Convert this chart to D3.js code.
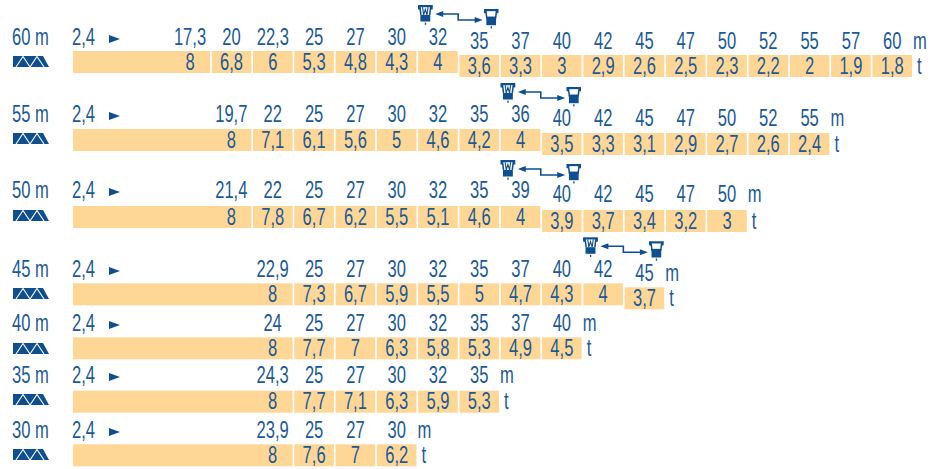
<!DOCTYPE html>
<html>
<head>
<meta charset="utf-8">
<script src="https://cdnjs.cloudflare.com/ajax/libs/d3/7.8.5/d3.min.js"></script>
<style>
  html, body { margin: 0; background: #fff; }
  text { font-family: "Liberation Sans", sans-serif; fill: #1b5a96; font-size: 23px; }
</style>
</head>
<body>
<svg id="chart" width="932" height="469"></svg>
<script>
const BLUE = '#0f4f8f';
const BAR = '#fed797';

const booms = ['60 m', '55 m', '50 m', '45 m', '40 m', '35 m', '30 m'];
const startRadius = '2,4';

const radius60 = ['17,3', '20', '22,3', '25', '27', '30', '32', '35', '37', '40', '42', '45', '47', '50', '52', '55', '57', '60'];
const radius55 = ['19,7', '22', '25', '27', '30', '32', '35', '36', '40', '42', '45', '47', '50', '52', '55'];
const radius50 = ['21,4', '22', '25', '27', '30', '32', '35', '39', '40', '42', '45', '47', '50'];
const radius45 = ['22,9', '25', '27', '30', '32', '35', '37', '40', '42', '45'];
const radius40 = ['24', '25', '27', '30', '32', '35', '37', '40'];
const radius35 = ['24,3', '25', '27', '30', '32', '35'];
const radius30 = ['23,9', '25', '27', '30'];

const load60 = ['8', '6,8', '6', '5,3', '4,8', '4,3', '4', '3,6', '3,3', '3', '2,9', '2,6', '2,5', '2,3', '2,2', '2', '1,9', '1,8'];
const load55 = ['8', '7,1', '6,1', '5,6', '5', '4,6', '4,2', '4', '3,5', '3,3', '3,1', '2,9', '2,7', '2,6', '2,4'];
const load50 = ['8', '7,8', '6,7', '6,2', '5,5', '5,1', '4,6', '4', '3,9', '3,7', '3,4', '3,2', '3'];
const load45 = ['8', '7,3', '6,7', '5,9', '5,5', '5', '4,7', '4,3', '4', '3,7'];
const load40 = ['8', '7,7', '7', '6,3', '5,8', '5,3', '4,9', '4,5'];
const load35 = ['8', '7,7', '7,1', '6,3', '5,9', '5,3'];
const load30 = ['8', '7,6', '7', '6,2'];

const radii = [radius60, radius55, radius50, radius45, radius40, radius35, radius30];
const loads = [load60, load55, load50, load45, load40, load35, load30];
// column the first (8 t) block stops at, and how many cells come before the single-fall drop
const firstEnd = [0, 1, 1, 2, 2, 2, 2];
const dropAt = [7, 8, 8, 9, null, null, null];

const colX = d3.scaleLinear().domain([0, 17]).range([210, 912]);
const rowY = d3.scaleOrdinal().domain(booms).range([51, 129, 206, 283.3, 337.3, 390.7, 444.3]);
const labelY = d3.scaleOrdinal().domain(booms).range([45, 122, 198, 277, 331, 383, 438]);
const trussY = d3.scaleOrdinal().domain(booms).range([56, 133, 210, 288, 343, 394, 449]);
const BAR_LEFT = 73, BAR_H = 22, DROP = 4;

const svg = d3.select('#chart');

// no narrow font here, so squeeze the text sideways
function label(sel, x, y, str, anchor) {
  return sel.append('text')
    .attr('text-anchor', anchor || 'start')
    .attr('transform', `translate(${x},${y}) scale(0.72,1)`)
    .text(str);
}

function truss(g) {
  g.append('path').attr('fill', BLUE)
    .attr('d', 'M0 0H30L36 11H0Z');
  g.append('path').attr('fill', 'none').attr('stroke', '#fff').attr('stroke-width', 1.1)
    .attr('d', 'M3 11L10 0.5L17 11L24 0.5L31 11');
}

function trolley(g, double) {
  g.append('path').attr('fill', 'none').attr('stroke', BLUE).attr('stroke-width', 1.4)
    .attr('d', 'M0.5 4V1H1.5M12.5 4V1H11.5M1.5 1L2.5 9M11.5 1L10.5 9');
  g.append('path').attr('fill', BLUE).attr('d', 'M0 0H13V2H0Z');
  g.append('rect').attr('x', 2).attr('y', double ? 9 : 7).attr('width', 9).attr('height', double ? 6 : 8).attr('fill', BLUE);
  if (double) {
    g.append('path').attr('fill', 'none').attr('stroke', BLUE).attr('stroke-width', 1)
      .attr('d', 'M4 2L5 9L6.5 4L8 9L9 2');
  }
  g.append('rect').attr('x', 6).attr('y', 16).attr('width', 1.2).attr('height', 2).attr('fill', BLUE);
}

function reeving(g) {
  trolley(g.append('g').attr('transform', 'scale(1.1)'), true);
  trolley(g.append('g').attr('transform', 'translate(66,4) scale(1.08)'), false);
  g.append('path').attr('fill', 'none').attr('stroke', BLUE).attr('stroke-width', 1.6)
    .attr('d', 'M22 9H40V15H58');
  g.append('path').attr('fill', BLUE).attr('d', 'M17 9L25 6V12Z');
  g.append('path').attr('fill', BLUE).attr('d', 'M64.5 15L56.5 12V18Z');
}

booms.forEach((boom, r) => {
  const y = rowY(boom);
  const ly = labelY(boom);
  const row = svg.append('g').attr('class', 'row');
  const cells = loads[r].map((l, i) => {
    const dropped = dropAt[r] !== null && i >= dropAt[r];
    const c = firstEnd[r] + i - 1;
    return {
      load: l,
      radius: radii[r][i],
      x0: i === 0 ? BAR_LEFT : colX(c) + 1.7,
      x1: colX(c + 1),
      dy: dropped ? DROP : 0
    };
  });

  label(row, 12, ly, boom);
  label(row, 72, ly, startRadius);
  row.append('path').attr('fill', BLUE)
    .attr('d', `M109 ${ly - 10}L120 ${ly - 6}L109 ${ly - 2}Z`);
  truss(row.append('g').attr('transform', `translate(13,${trussY(boom)})`));

  row.selectAll('rect.bar').data(cells).enter().append('rect')
    .attr('class', 'bar')
    .attr('x', d => d.x0)
    .attr('y', d => y + d.dy)
    .attr('width', d => d.x1 - d.x0)
    .attr('height', BAR_H)
    .attr('fill', BAR);

  cells.forEach((d, i) => {
    const cx = i === 0 ? d.x1 - 20 : (d.x0 + d.x1) / 2;
    label(row, cx, y + d.dy + 18.5, d.load, 'middle');
    label(row, cx, ly + d.dy, d.radius, 'middle');
  });

  const last = cells[cells.length - 1];
  label(row, last.x1 + 1, ly + last.dy, 'm');
  label(row, last.x1 + 5, y + last.dy + 18.5, 't');

  if (dropAt[r] !== null) {
    const b = cells[dropAt[r] - 1];
    reeving(row.append('g').attr('transform', `translate(${b.x0},${y - 46})`));
  }
});
</script>
</body>
</html>
